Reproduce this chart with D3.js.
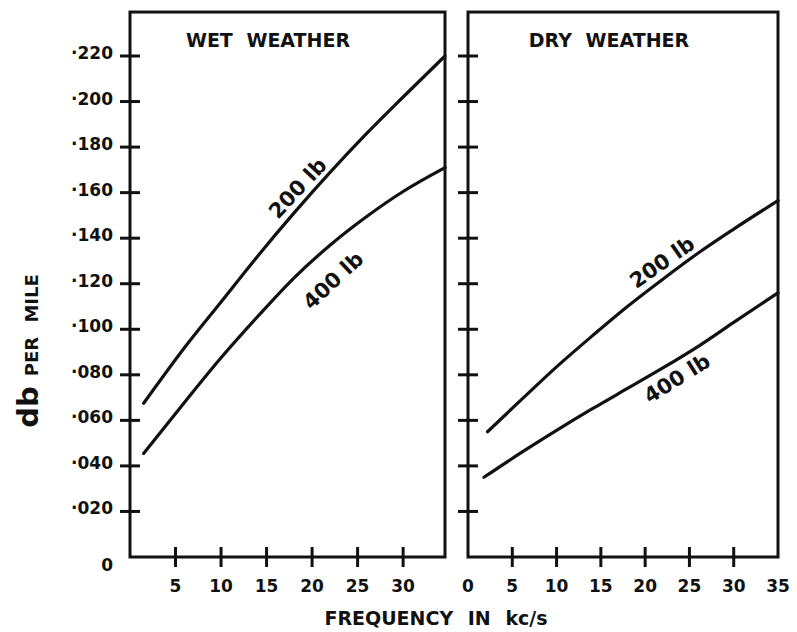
<!DOCTYPE html>
<html>
<head>
<meta charset="utf-8">
<script src="https://cdn.jsdelivr.net/npm/d3@7"></script>
<style>
  html, body { margin: 0; padding: 0; background: #fff; }
  svg { display: block; }
  text { font-family: "DejaVu Sans", sans-serif; font-weight: bold; fill: #111; }
</style>
</head>
<body>
<svg id="chart" width="797" height="632"></svg>
<script>
// Attenuation (db per mile) against frequency (kc/s) for two conductor weights
const yTicks = [0.02, 0.04, 0.06, 0.08, 0.10, 0.12, 0.14, 0.16, 0.18, 0.20, 0.22];
const yLabelTicks = [0, 0.02, 0.04, 0.06, 0.08, 0.10, 0.12, 0.14, 0.16, 0.18, 0.20, 0.22];
const wetXTicks = [5, 10, 15, 20, 25, 30];
const dryXTicks = [5, 10, 15, 20, 25, 30];
const dryXLabels = [0, 5, 10, 15, 20, 25, 30, 35];

// Wet weather curves: [frequency, db per mile]
const wet200 = [[1.5, 0.0675], [6, 0.092], [10, 0.112], [14, 0.132], [18, 0.151], [22, 0.169], [26, 0.186], [30, 0.202], [34.6, 0.220]];
const wet400 = [[1.5, 0.0455], [6, 0.068], [10, 0.0875], [14, 0.1055], [18, 0.1225], [22, 0.137], [26, 0.1495], [30, 0.1605], [34.6, 0.171]];

// Dry weather curves
const dry200 = [[2.2, 0.055], [6, 0.069], [10, 0.0835], [14, 0.097], [18, 0.110], [22, 0.122], [26, 0.1335], [30, 0.144], [35, 0.1565]];
const dry400 = [[1.8, 0.035], [6, 0.0458], [10, 0.0556], [14, 0.0650], [18, 0.0740], [22, 0.0830], [26, 0.0925], [30, 0.1030], [35, 0.116]];

// Curve labels: [frequency, value, angle]
const wetLabels = [{ text: "200 lb", at: [18.4, 0.162], angle: -47 }, { text: "400 lb", at: [22.3, 0.1215], angle: -43 }];
const dryLabels = [{ text: "200 lb", at: [21.9, 0.1295], angle: -35 }, { text: "400 lb", at: [23.6, 0.0785], angle: -32 }];

const svg = d3.select("#chart");

const y = d3.scaleLinear().domain([0, 0.22]).range([557, 56]);
const yTop = 0.2393; // upper frame edge in data units

const panels = [
  { title: "WET WEATHER", titleX: 268, x: d3.scaleLinear().domain([0, 34.6]).range([130, 445]),
    xMax: 34.6, ticks: wetXTicks, labels: wetXTicks, curves: [wet200, wet400], curveLabels: wetLabels },
  { title: "DRY WEATHER", titleX: 609, x: d3.scaleLinear().domain([0, 35]).range([468, 778]),
    xMax: 35, ticks: dryXTicks, labels: dryXLabels, curves: [dry200, dry400], curveLabels: dryLabels }
];

const ink = "#111";

panels.forEach(p => {
  const g = svg.append("g");
  const x0 = p.x(0), x1 = p.x(p.xMax), yb = y(0), yt = y(yTop);

  // frame
  g.append("rect")
    .attr("x", x0).attr("y", yt)
    .attr("width", x1 - x0).attr("height", yb - yt)
    .attr("fill", "none").attr("stroke", ink).attr("stroke-width", 3);

  // y ticks crossing the left frame edge
  g.selectAll(".yt").data(yTicks).join("line")
    .attr("x1", x0 - 10).attr("x2", x0 + 10)
    .attr("y1", d => y(d)).attr("y2", d => y(d))
    .attr("stroke", ink).attr("stroke-width", 3);

  // x ticks crossing the bottom frame edge
  g.selectAll(".xt").data(p.ticks).join("line")
    .attr("x1", d => p.x(d)).attr("x2", d => p.x(d))
    .attr("y1", yb - 10).attr("y2", yb + 10)
    .attr("stroke", ink).attr("stroke-width", 3);

  // x tick labels
  g.selectAll(".xl").data(p.labels).join("text")
    .attr("x", d => p.x(d)).attr("y", 592)
    .attr("text-anchor", "middle")
    .attr("font-size", 17)
    .text(d => d);

  // panel title
  g.append("text")
    .attr("x", p.titleX).attr("y", 47)
    .attr("text-anchor", "middle")
    .attr("font-size", 19)
    .attr("word-spacing", 7)
    .text(p.title);

  // curves
  const line = d3.line().x(d => p.x(d[0])).y(d => y(d[1])).curve(d3.curveMonotoneX);
  g.selectAll(".curve").data(p.curves).join("path")
    .attr("d", line)
    .attr("fill", "none").attr("stroke", ink).attr("stroke-width", 3.2)
    .attr("stroke-linecap", "round");

  // curve labels
  g.selectAll(".cl").data(p.curveLabels).join("text")
    .attr("transform", d => `translate(${p.x(d.at[0])},${y(d.at[1])}) rotate(${d.angle})`)
    .attr("text-anchor", "middle")
    .attr("dy", "0.35em")
    .attr("font-size", 21)
    .text(d => d.text);
});

// y tick labels on the left panel
const fmt = d => d === 0 ? "0" : "·" + d3.format(".3f")(d).slice(2);
svg.selectAll(".yl").data(yLabelTicks).join("text")
  .attr("x", 113)
  .attr("y", d => y(d) + (d === 0 ? 14 : 3))
  .attr("text-anchor", "end")
  .attr("font-size", 17)
  .text(fmt);

// y axis title
const yt = svg.append("text")
  .attr("transform", "translate(38,351) rotate(-90)")
  .attr("text-anchor", "middle");
yt.append("tspan").attr("font-size", 29).text("db");
yt.append("tspan").attr("font-size", 18).attr("dx", 10).attr("word-spacing", 8).text("PER MILE");

// x axis title
svg.append("text")
  .attr("x", 436).attr("y", 625)
  .attr("text-anchor", "middle")
  .attr("font-size", 19)
  .attr("word-spacing", 8)
  .text("FREQUENCY IN kc/s");
</script>
</body>
</html>
